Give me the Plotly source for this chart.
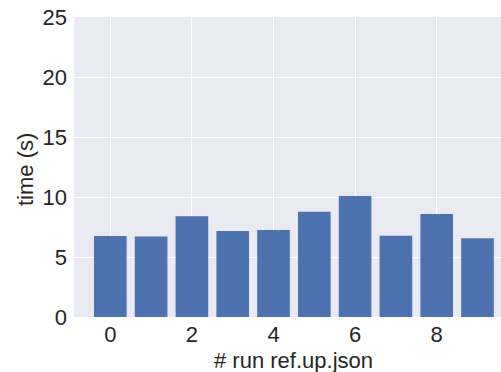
import plotly.graph_objects as go

runs = list(range(10))
times = [6.75, 6.70, 8.39, 7.17, 7.25, 8.78, 10.08, 6.78, 8.58, 6.56]
x_ticks = [0, 2, 4, 6, 8]
y_ticks = [0, 5, 10, 15, 20, 25]

W, H = 501, 372
L, R, T, B = 74, 0, 17, 372 - 317
pw, ph = W - L - R, H - T - B

fig = go.Figure(go.Bar(x=runs, y=times, width=0.8, marker=dict(color="#4C72B0", line=dict(width=0))))

font = dict(family="Liberation Sans, Arial, sans-serif", size=22, color="#262626")
fig.update_layout(
    width=W, height=H,
    margin=dict(l=L, r=R, t=T, b=B, autoexpand=False),
    paper_bgcolor="white", plot_bgcolor="#EAEAF2",
    font=font, showlegend=False,
    xaxis=dict(range=[-0.89, 9.576], tickvals=x_ticks, showgrid=True, gridcolor="white", gridwidth=1,
               zeroline=False, showline=False, ticks="", ticklabelstandoff=2),
    yaxis=dict(range=[0, 25], tickvals=y_ticks, showgrid=True, gridcolor="white", gridwidth=1,
               zeroline=False, showline=False, ticks="", ticklabelstandoff=6),
)
fig.add_annotation(text="# run ref.up.json", xref="paper", yref="paper",
                   x=(293 - L) / pw, y=-(360 - T - ph) / ph, xanchor="center", yanchor="middle",
                   showarrow=False, font=font)
fig.add_annotation(text="time (s)", xref="paper", yref="paper", textangle=-90,
                   x=(25 - L) / pw, y=1 - (170 - T) / ph, xanchor="center", yanchor="middle",
                   showarrow=False, font=font)
fig.write_html("out.html", config={"displayModeBar": False},
               post_script="document.body.style.margin='0px';")
